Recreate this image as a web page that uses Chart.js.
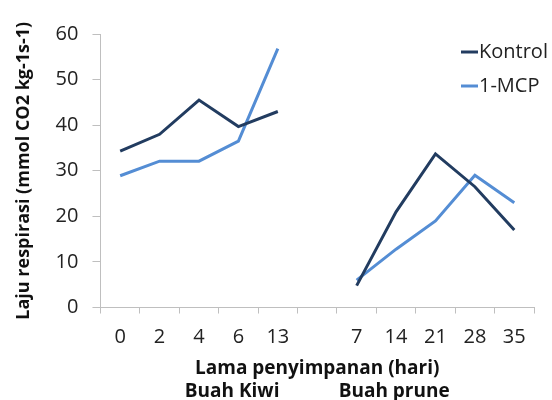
<!DOCTYPE html>
<html>
<head>
<meta charset="utf-8">
<script src="https://cdn.jsdelivr.net/npm/chart.js@4"></script>
<style>
  body { margin: 0; background: #fff; }
  #wrap { width: 552px; height: 400px; }
</style>
</head>
<body>
<div id="wrap"><canvas id="chart" width="552" height="400"></canvas></div>
<script>
// categories: kiwi days, an empty slot, then prune days
const days = ['0', '2', '4', '6', '13', '', '7', '14', '21', '28', '35'];
const kontrol = [34.3, 38, 45.5, 39.7, 43, null, 4.8, 21, 33.7, 26.5, 17];
const mcp = [28.9, 32.1, 32.1, 36.5, 56.8, null, 6, 12.8, 19, 29, 23];
const yTicks = [0, 10, 20, 30, 40, 50, 60];

const darkBlue = '#223c60';
const lightBlue = '#548dd4';
const font = "'Open Sans', 'Noto Sans', sans-serif";

// legend drawn over the top right corner, like the original
const cornerLegend = {
  id: 'cornerLegend',
  afterDraw(chart) {
    const c = chart.ctx;
    const x = chart.chartArea.right - 73;
    const items = [['Kontrol', darkBlue, 52], ['1-MCP', lightBlue, 86]];
    c.save();
    c.font = '20px ' + font;
    c.textBaseline = 'middle';
    items.forEach(([label, color, y]) => {
      c.strokeStyle = color;
      c.lineWidth = 3;
      c.beginPath();
      c.moveTo(x, y);
      c.lineTo(x + 17, y);
      c.stroke();
      c.fillStyle = '#222';
      c.fillText(label, x + 18, y);
    });
    c.restore();
  }
};

const ctx = document.getElementById('chart').getContext('2d');

new Chart(ctx, {
  type: 'line',
  data: {
    labels: days,
    datasets: [
      {
        label: 'Kontrol',
        data: kontrol,
        borderColor: darkBlue,
        borderWidth: 3,
        pointRadius: 0,
        tension: 0
      },
      {
        label: '1-MCP',
        data: mcp,
        borderColor: lightBlue,
        borderWidth: 3,
        pointRadius: 0,
        tension: 0
      }
    ]
  },
  options: {
    responsive: false,
    animation: false,
    layout: { padding: { top: 34, right: 18, left: 13, bottom: 0 } },
    plugins: {
      legend: { display: false },
      tooltip: { enabled: false }
    },
    scales: {
      x: {
        offset: true,
        grid: {
          offset: true,
          drawOnChartArea: false,
          drawTicks: true,
          tickLength: 6,
          color: '#bfbfbf'
        },
        border: { color: '#bfbfbf' },
        ticks: {
          color: '#222',
          font: { family: font, size: 20, lineHeight: 1 },
          padding: 14,
          maxRotation: 0,
          autoSkip: false
        },
        title: {
          display: true,
          text: ['Lama penyimpanan (hari)', 'Buah Kiwi            Buah prune'],
          color: '#111',
          font: { family: font, size: 19, weight: 'bold', lineHeight: 1.21 },
          padding: { top: -4.5, bottom: -3 }
        }
      },
      y: {
        min: 0,
        max: 60,
        afterBuildTicks(axis) {
          axis.ticks = yTicks.map(v => ({ value: v }));
        },
        grid: {
          drawOnChartArea: false,
          drawTicks: true,
          tickLength: 8,
          color: '#bfbfbf'
        },
        border: { color: '#bfbfbf' },
        ticks: {
          color: '#222',
          font: { family: font, size: 20 },
          padding: 14
        },
        title: {
          display: true,
          text: 'Laju respirasi (mmol CO2 kg-1s-1)',
          color: '#111',
          font: { family: font, size: 18, weight: 'bold' },
          padding: { top: 0, bottom: 7 }
        }
      }
    }
  },
  plugins: [cornerLegend]
});
</script>
</body>
</html>
